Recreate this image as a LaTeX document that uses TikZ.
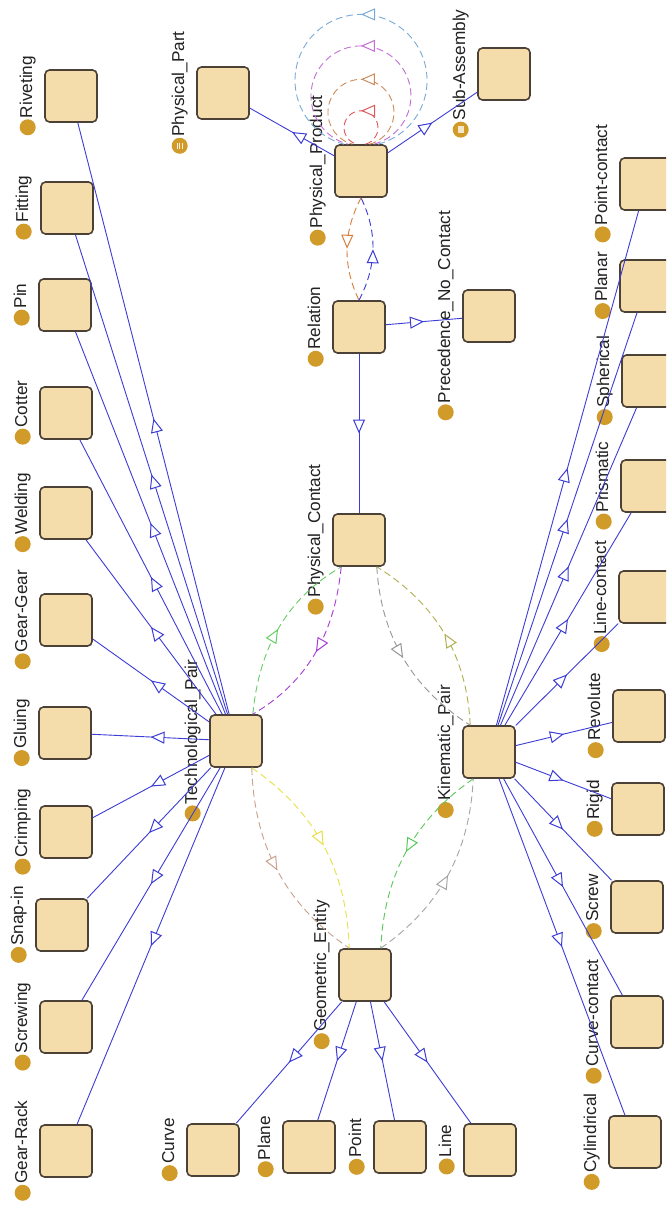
\documentclass[tikz,border=0pt]{standalone}
\usepackage{fontspec}
\setmainfont{Liberation Sans}
\usetikzlibrary{arrows.meta,decorations.markings,calc}
\definecolor{boxfill}{RGB}{244,221,170}
\definecolor{boxdraw}{RGB}{75,65,55}
\definecolor{dotc}{RGB}{208,155,40}
\definecolor{txt}{RGB}{34,34,34}
\definecolor{eblue}{RGB}{60,60,215}
\definecolor{lred}{RGB}{220,90,90}
\definecolor{lorange}{RGB}{205,140,90}
\definecolor{lmag}{RGB}{195,110,215}
\definecolor{lblue}{RGB}{120,170,215}
\definecolor{dorange}{RGB}{215,125,60}
\definecolor{dgreen}{RGB}{100,205,100}
\definecolor{dmag}{RGB}{165,60,215}
\definecolor{dolive}{RGB}{175,175,80}
\definecolor{dgray}{RGB}{150,150,150}
\definecolor{dtan}{RGB}{200,160,140}
\definecolor{dyellow}{RGB}{230,225,70}
\definecolor{dgreenb}{RGB}{90,200,90}
\definecolor{dgrayb}{RGB}{165,165,165}
\newcommand\lblfont{\fontsize{17.2}{20}\selectfont}
\newcommand\mklabel[2]{%
  \node[lbl] (#1-t) at ($(#1.west)+(-16.5,-9)$) {#2};
  \coordinate (#1-d) at ($(#1-t.west)+(0,9)$);
  \fill[dotc] (#1-d) circle[radius=8pt];}
\tikzset{
  box/.style={draw=boxdraw, fill=boxfill, rounded corners=4.5pt, minimum width=52pt, minimum height=52pt, line width=1.6pt, inner sep=0pt},
  lbl/.style={rotate=90, inner sep=0pt, text height=12.3pt, text depth=3.6pt, font=\lblfont, text=txt},
  isa/.style={draw=eblue, line width=0.9pt, postaction={decorate}, decoration={markings, mark=at position 0.5 with {\arrow[eblue]{Triangle[length=14pt, width=12pt, fill=white, line width=1pt]}}}},
  rel/.style={draw=#1, line width=0.9pt, dash pattern=on 7pt off 4pt, postaction={decorate}, decoration={markings, mark=at position 0.5 with {\arrow[#1]{Triangle[length=14pt, width=12pt, fill=white, line width=1pt]}}}}
}
\begin{document}
\begin{tikzpicture}[x=1pt,y=-1pt]
\useasboundingbox (0,0) rectangle (666,1206);
\clip (0,0) rectangle (666,1206);
\fill[white] (0,0) rectangle (666,1206);
% left column
\node[box] (riv) at (71,96) {};
\node[box] (fit) at (67,208) {};
\node[box] (pin) at (65,305) {};
\node[box] (cot) at (66,413) {};
\node[box] (wel) at (66,513) {};
\node[box] (gg) at (66,620) {};
\node[box] (glu) at (65,733) {};
\node[box] (cri) at (66,832) {};
\node[box] (snap) at (62,925) {};
\node[box] (scw) at (66,1027) {};
\node[box] (gr) at (66,1151) {};
% centre
\node[box] (ppart) at (223,93) {};
\node[box] (pprod) at (361,171) {};
\node[box] (sub) at (504,74) {};
\node[box] (rel) at (359,327) {};
\node[box] (pnc) at (489,316) {};
\node[box] (pc) at (359,540) {};
\node[box] (tp) at (236,741) {};
\node[box] (kp) at (489,752) {};
\node[box] (ge) at (365,975) {};
\node[box] (crv) at (213,1150) {};
\node[box] (pla) at (309,1147) {};
\node[box] (pnt) at (400,1147) {};
\node[box] (lin) at (490,1150) {};
% right column
\node[box] (ptc) at (646,184) {};
\node[box] (plr) at (646,286) {};
\node[box] (sph) at (648,381) {};
\node[box] (pri) at (647,486) {};
\node[box] (lc) at (645,597) {};
\node[box] (rev) at (639,716) {};
\node[box] (rig) at (638,809) {};
\node[box] (scr) at (637,907) {};
\node[box] (cc) at (637,1022) {};
\node[box] (cyl) at (635,1142) {};
% labels
\mklabel{riv}{Riveting}
\mklabel{fit}{Fitting}
\mklabel{pin}{Pin}
\mklabel{cot}{Cotter}
\mklabel{wel}{Welding}
\mklabel{gg}{Gear-Gear}
\mklabel{glu}{Gluing}
\mklabel{cri}{Crimping}
\mklabel{snap}{Snap-in}
\mklabel{scw}{Screwing}
\mklabel{gr}{Gear-Rack}
\mklabel{ppart}{Physical\_Part}
\mklabel{pprod}{Physical\_Product}
\mklabel{sub}{Sub-Assembly}
\mklabel{rel}{Relation}
\mklabel{pnc}{Precedence\_No\_Contact}
\mklabel{pc}{Physical\_Contact}
\mklabel{tp}{Technological\_Pair}
\mklabel{kp}{Kinematic\_Pair}
\mklabel{ge}{Geometric\_Entity}
\mklabel{crv}{Curve}
\mklabel{pla}{Plane}
\mklabel{pnt}{Point}
\mklabel{lin}{Line}
\mklabel{ptc}{Point-contact}
\mklabel{plr}{Planar}
\mklabel{sph}{Spherical}
\mklabel{pri}{Prismatic}
\mklabel{lc}{Line-contact}
\mklabel{rev}{Revolute}
\mklabel{rig}{Rigid}
\mklabel{scr}{Screw}
\mklabel{cc}{Curve-contact}
\mklabel{cyl}{Cylindrical}
% dot marks
\foreach \dx in {-2.6,0,2.6} \draw[white!85!dotc, line width=1pt] ($(ppart-d)+(\dx,-3.2)$) -- ($(ppart-d)+(\dx,3.2)$);
\fill[white!75!dotc] ($(sub-d)+(-3.2,-3.2)$) rectangle ($(sub-d)+(3.2,3.2)$);
% is-a edges
\foreach \c in {riv,fit,pin,cot,wel,gg,glu,cri,snap,scw,gr} \draw[isa] (tp) -- (\c);
\foreach \c in {ptc,plr,sph,pri,lc,rev,rig,scr,cc,cyl} \draw[isa] (kp) -- (\c);
\foreach \c in {crv,pla,pnt,lin} \draw[isa] (ge) -- (\c);
\draw[isa] (pprod) -- (ppart);
\draw[isa] (pprod) -- (sub);
\draw[isa] (rel) -- (pnc);
\draw[isa] (rel) -- (pc);
% self loops
\draw[rel=lred] ($(pprod.north)+(4.4,0)$) arc[start angle=75, end angle=-255, radius=17];
\draw[rel=lorange] ($(pprod.north)+(8.5,0)$) arc[start angle=75, end angle=-255, radius=33];
\draw[rel=lmag] ($(pprod.north)+(12.9,0)$) arc[start angle=75, end angle=-255, radius=50];
\draw[rel=lblue] ($(pprod.north)+(17.1,0)$) arc[start angle=75, end angle=-255, radius=66];
% product - relation
\draw[rel=dorange] (pprod.south) .. controls +(-18,34.3) and +(-16.6,-34.3) .. (rel.north);
\draw[rel=eblue] (rel.north) .. controls +(18,-34.3) and +(16.6,34.3) .. (pprod.south);
% contact - technological pair
\draw[rel=dgreen] ($(tp.north east)+(-10,0)$) .. controls +(6.7,-68.7) and +(-53.3,31.3) .. ($(pc.south west)+(9,0)$);
\draw[rel=dmag] ($(pc.south west)+(9,0)$) .. controls +(-6.7,68.7) and +(53.3,-31.3) .. ($(tp.north east)+(-10,0)$);
% contact - kinematic pair
\draw[rel=dolive] ($(kp.north west)+(8,0)$) .. controls +(-3.3,-69.7) and +(59.3,36.9) .. ($(pc.south east)+(-9,0)$);
\draw[rel=dgray] ($(pc.south east)+(-9,0)$) .. controls +(4.1,69.3) and +(-58.5,-37.3) .. ($(kp.north west)+(8,0)$);
% technological pair - geometric entity
\draw[rel=dtan] ($(tp.south east)+(-11,0)$) .. controls +(2.2,77.5) and +(-63.8,-43.9) .. ($(ge.north west)+(11,0)$);
\draw[rel=dyellow] ($(tp.south east)+(-11,0)$) .. controls +(63.8,43.9) and +(-2.2,-77.5) .. ($(ge.north west)+(11,0)$);
% kinematic pair - geometric entity
\draw[rel=dgreenb] ($(kp.south west)+(11,0)$) .. controls +(-59.3,41.5) and +(3.3,-72.5) .. ($(ge.north east)+(-11,0)$);
\draw[rel=dgrayb] ($(ge.north east)+(-11,0)$) .. controls +(59.3,-41.5) and +(-3.3,72.5) .. ($(kp.south west)+(11,0)$);
\end{tikzpicture}
\end{document}
